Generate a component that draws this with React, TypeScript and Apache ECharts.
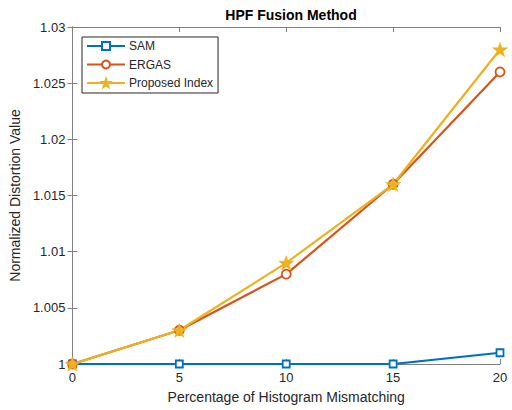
import React, { useEffect, useRef } from "react";
import * as echarts from "echarts";

const xValues = [0, 5, 10, 15, 20];
const samValues = [1, 1, 1, 1, 1.001];
const ergasValues = [1, 1.003, 1.008, 1.016, 1.026];
const proposedValues = [1, 1.003, 1.009, 1.016, 1.028];
const seriesNames = ["SAM", "ERGAS", "Proposed Index"];

const STAR =
  "path://M0,-10L2.35,-3.24L9.51,-3.09L3.8,1.24L5.88,8.09L0,4.1L-5.88,8.09L-3.8,1.24L-9.51,-3.09L-2.35,-3.24Z";

const FONT = "Liberation Sans, Arial, Helvetica, sans-serif";
const TXT = "#262626";
const AX = "#808080";

export default function App() {
  const ref = useRef<HTMLDivElement>(null);
  useEffect(() => {
    if (!ref.current) return;
    const chart = echarts.init(ref.current, undefined, { renderer: "svg" });
    const pairs = (ys: number[]) => xValues.map((x, i) => [x, ys[i]]);
    const fmtY = (v: number) => String(parseFloat(v.toFixed(3)));
    chart.setOption({
      animation: false,
      backgroundColor: "#ffffff",
      textStyle: { fontFamily: FONT },
      title: {
        text: "HPF Fusion Method",
        left: 286,
        top: 3,
        textAlign: "center",
        textStyle: { fontFamily: FONT, fontSize: 14, fontWeight: "bold", color: "#000" },
      },
      legend: {
        orient: "vertical",
        left: 82,
        top: 37,
        padding: [3, 5, 4, 4],
        itemWidth: 38,
        itemHeight: 10,
        itemGap: 6.5,
        borderColor: "#262626",
        borderWidth: 1,
        borderRadius: 0,
        textStyle: { fontFamily: FONT, fontSize: 12, color: TXT, padding: [0, 0, 0, -1] },
        data: seriesNames,
      },
      grid: { left: 72, right: 12, top: 27, bottom: 46, containLabel: false },
      xAxis: [
        {
          type: "value",
          min: 0,
          max: 20,
          interval: 5,
          name: "Percentage of Histogram Mismatching",
          nameLocation: "middle",
          nameGap: 26,
          nameTextStyle: { fontFamily: FONT, fontSize: 14, color: TXT },
          axisLine: { show: true, lineStyle: { color: AX, width: 1 } },
          axisTick: { show: true, inside: true, length: 5, lineStyle: { color: AX } },
          axisLabel: { fontFamily: FONT, fontSize: 13, color: TXT, margin: 7 },
          splitLine: { show: false },
        },
        {
          type: "value",
          position: "top",
          min: 0,
          max: 20,
          interval: 5,
          axisLine: { show: true, lineStyle: { color: AX, width: 1 } },
          axisTick: { show: true, inside: true, length: 5, lineStyle: { color: AX } },
          axisLabel: { show: false },
          splitLine: { show: false },
        },
      ],
      yAxis: [
        {
          type: "value",
          min: 1,
          max: 1.03,
          interval: 0.005,
          name: "Normalized Distortion Value",
          nameLocation: "middle",
          nameGap: 45,
          nameTextStyle: { fontFamily: FONT, fontSize: 14, color: TXT },
          axisLine: { show: true, lineStyle: { color: AX, width: 1 } },
          axisTick: { show: true, inside: true, length: 5, lineStyle: { color: AX } },
          axisLabel: { fontFamily: FONT, fontSize: 13, color: TXT, margin: 7, formatter: fmtY },
          splitLine: { show: false },
        },
        {
          type: "value",
          position: "right",
          min: 1,
          max: 1.03,
          interval: 0.005,
          axisLine: { show: true, lineStyle: { color: AX, width: 1 } },
          axisTick: { show: true, inside: true, length: 5, lineStyle: { color: AX } },
          axisLabel: { show: false },
          splitLine: { show: false },
        },
      ],
      series: [
        {
          name: seriesNames[0],
          type: "line",
          data: pairs(samValues),
          color: "#0072BD",
          lineStyle: { width: 2.2, color: "#0072BD" },
          symbol: "rect",
          symbolSize: 7,
          itemStyle: { color: "#ffffff", borderColor: "#0072BD", borderWidth: 1.8 },
        },
        {
          name: seriesNames[1],
          type: "line",
          data: pairs(ergasValues),
          color: "#D95319",
          lineStyle: { width: 2.2, color: "#D95319" },
          symbol: "circle",
          symbolSize: 9,
          itemStyle: { color: "#ffffff", borderColor: "#D95319", borderWidth: 1.8 },
        },
        {
          name: seriesNames[2],
          type: "line",
          data: pairs(proposedValues),
          color: "#EDB120",
          lineStyle: { width: 2.2, color: "#EDB120" },
          symbol: STAR,
          symbolSize: 15,
          symbolKeepAspect: true,
          itemStyle: { color: "#EDB120", borderColor: "#EDB120", borderWidth: 0.5 },
        },
      ],
    });
    return () => chart.dispose();
  }, []);
  return (
    <div
      ref={ref}
      style={{ position: "fixed", left: 0, top: 0, width: 512, height: 410, background: "#fff" }}
    />
  );
}
